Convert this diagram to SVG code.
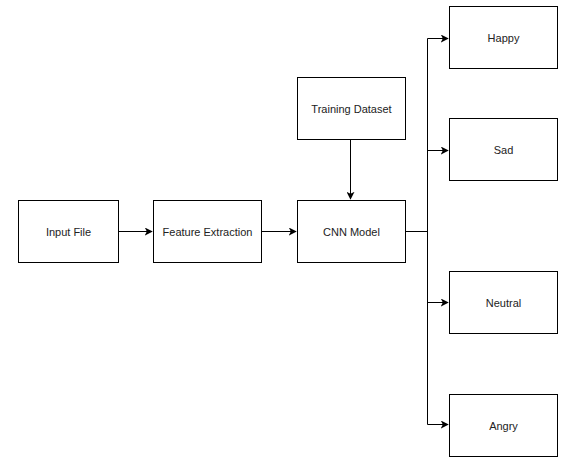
<svg xmlns="http://www.w3.org/2000/svg" width="566" height="461" viewBox="0 0 566 461">
<style>
.box{fill:#fff;stroke:#000;stroke-width:1}
.lbl{font-family:"Liberation Sans",Arial,sans-serif;font-size:11px;fill:#222;text-anchor:middle;dominant-baseline:central}
.edge{fill:none;stroke:#000;stroke-width:1}
</style>
<defs>
<marker id="arr" viewBox="0 0 10 10" refX="9" refY="5" markerWidth="8" markerHeight="8" markerUnits="userSpaceOnUse" orient="auto">
<path d="M0,0 L10,5 L0,10 L2.5,5 Z" fill="#000"/>
</marker>
</defs>
<rect width="566" height="461" fill="#fff"/>
<g id="connectors">
<path class="edge" d="M118.5,231.5 H152" marker-end="url(#arr)"/>
<path class="edge" d="M261.5,231.5 H296" marker-end="url(#arr)"/>
<path class="edge" d="M350.5,139.5 V199" marker-end="url(#arr)"/>
<path class="edge" d="M405.5,231.5 H427.5"/>
<path class="edge" d="M427.5,38.5 V424.5"/>
<path class="edge" d="M427.5,38.5 H448" marker-end="url(#arr)"/>
<path class="edge" d="M427.5,150.5 H448" marker-end="url(#arr)"/>
<path class="edge" d="M427.5,302.5 H448" marker-end="url(#arr)"/>
<path class="edge" d="M427.5,424.5 H448" marker-end="url(#arr)"/>
</g>
<g id="input"><rect class="box" x="18.5" y="200.5" width="100" height="62"/><text class="lbl" x="68.5" y="231.5">Input File</text></g>
<g id="feature"><rect class="box" x="153.5" y="200.5" width="108" height="62"/><text class="lbl" x="207.5" y="231.5">Feature Extraction</text></g>
<g id="cnn"><rect class="box" x="297.5" y="200.5" width="108" height="62"/><text class="lbl" x="351.5" y="231.5">CNN Model</text></g>
<g id="training"><rect class="box" x="297.5" y="77.5" width="108" height="62"/><text class="lbl" x="351.5" y="108.5">Training Dataset</text></g>
<g id="happy"><rect class="box" x="449.5" y="6.5" width="108" height="62"/><text class="lbl" x="503.5" y="37.5">Happy</text></g>
<g id="sad"><rect class="box" x="449.5" y="118.5" width="108" height="62"/><text class="lbl" x="503.5" y="149.5">Sad</text></g>
<g id="neutral"><rect class="box" x="449.5" y="271.5" width="108" height="62"/><text class="lbl" x="503.5" y="302.5">Neutral</text></g>
<g id="angry"><rect class="box" x="449.5" y="394.5" width="108" height="62"/><text class="lbl" x="503.5" y="425.5">Angry</text></g>
</svg>
